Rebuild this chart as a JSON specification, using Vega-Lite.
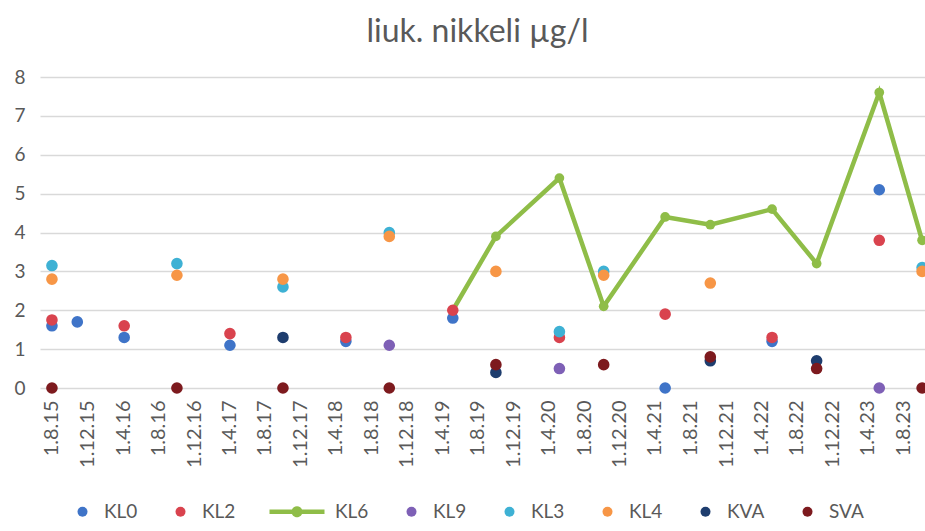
{
  "$schema": "https://vega.github.io/schema/vega-lite/v6.json",
  "width": 885,
  "height": 311,
  "autosize": {"type": "none"},
  "padding": {"left": 40, "top": 77, "right": 0, "bottom": 143},
  "background": "white",
  "title": {
    "text": "liuk. nikkeli µg/l",
    "font": "Lato",
    "fontSize": 32,
    "fontWeight": "normal",
    "color": "#595959",
    "anchor": "middle",
    "frame": "group",
    "baseline": "alphabetic",
    "offset": 35,
    "dy": 41,
    "dx": -5
  },
  "config": {
    "view": {"stroke": null},
    "font": "Lato",
    "axis": {"domain": false, "ticks": false, "title": null}
  },
  "data": {
    "values": [
      {"date": "2015-08-01T00:00:00", "series": "KL0", "value": 1.6},
      {"date": "2015-10-27T00:00:00", "series": "KL0", "value": 1.7},
      {"date": "2016-04-05T00:00:00", "series": "KL0", "value": 1.3},
      {"date": "2017-04-03T00:00:00", "series": "KL0", "value": 1.1},
      {"date": "2018-05-06T00:00:00", "series": "KL0", "value": 1.2},
      {"date": "2019-05-08T00:00:00", "series": "KL0", "value": 1.8},
      {"date": "2021-05-06T00:00:00", "series": "KL0", "value": 0.0},
      {"date": "2022-05-08T00:00:00", "series": "KL0", "value": 1.2},
      {"date": "2023-05-11T00:00:00", "series": "KL0", "value": 5.1},
      {"date": "2015-08-01T00:00:00", "series": "KL2", "value": 1.75},
      {"date": "2016-04-05T00:00:00", "series": "KL2", "value": 1.6},
      {"date": "2017-04-03T00:00:00", "series": "KL2", "value": 1.4},
      {"date": "2018-05-06T00:00:00", "series": "KL2", "value": 1.3},
      {"date": "2019-05-08T00:00:00", "series": "KL2", "value": 2.0},
      {"date": "2020-05-08T00:00:00", "series": "KL2", "value": 1.3},
      {"date": "2021-05-06T00:00:00", "series": "KL2", "value": 1.9},
      {"date": "2022-05-08T00:00:00", "series": "KL2", "value": 1.3},
      {"date": "2023-05-11T00:00:00", "series": "KL2", "value": 3.8},
      {"date": "2019-05-08T00:00:00", "series": "KL6", "value": 2.0},
      {"date": "2019-10-03T00:00:00", "series": "KL6", "value": 3.9},
      {"date": "2020-05-08T00:00:00", "series": "KL6", "value": 5.4},
      {"date": "2020-10-07T00:00:00", "series": "KL6", "value": 2.1},
      {"date": "2021-05-06T00:00:00", "series": "KL6", "value": 4.4},
      {"date": "2021-10-08T00:00:00", "series": "KL6", "value": 4.2},
      {"date": "2022-05-08T00:00:00", "series": "KL6", "value": 4.6},
      {"date": "2022-10-08T00:00:00", "series": "KL6", "value": 3.2},
      {"date": "2023-05-11T00:00:00", "series": "KL6", "value": 7.6},
      {"date": "2023-10-05T00:00:00", "series": "KL6", "value": 3.8},
      {"date": "2018-10-02T00:00:00", "series": "KL9", "value": 1.1},
      {"date": "2020-05-08T00:00:00", "series": "KL9", "value": 0.5},
      {"date": "2023-05-11T00:00:00", "series": "KL9", "value": 0.0},
      {"date": "2015-08-01T00:00:00", "series": "KL3", "value": 3.15},
      {"date": "2016-10-03T00:00:00", "series": "KL3", "value": 3.2},
      {"date": "2017-10-02T00:00:00", "series": "KL3", "value": 2.6},
      {"date": "2018-10-02T00:00:00", "series": "KL3", "value": 4.0},
      {"date": "2020-05-08T00:00:00", "series": "KL3", "value": 1.45},
      {"date": "2020-10-07T00:00:00", "series": "KL3", "value": 3.0},
      {"date": "2023-10-05T00:00:00", "series": "KL3", "value": 3.1},
      {"date": "2015-08-01T00:00:00", "series": "KL4", "value": 2.8},
      {"date": "2016-10-03T00:00:00", "series": "KL4", "value": 2.9},
      {"date": "2017-10-02T00:00:00", "series": "KL4", "value": 2.8},
      {"date": "2018-10-02T00:00:00", "series": "KL4", "value": 3.9},
      {"date": "2019-10-03T00:00:00", "series": "KL4", "value": 3.0},
      {"date": "2020-10-07T00:00:00", "series": "KL4", "value": 2.9},
      {"date": "2021-10-08T00:00:00", "series": "KL4", "value": 2.7},
      {"date": "2023-10-05T00:00:00", "series": "KL4", "value": 3.0},
      {"date": "2017-10-02T00:00:00", "series": "KVA", "value": 1.3},
      {"date": "2019-10-03T00:00:00", "series": "KVA", "value": 0.4},
      {"date": "2021-10-08T00:00:00", "series": "KVA", "value": 0.7},
      {"date": "2022-10-08T00:00:00", "series": "KVA", "value": 0.7},
      {"date": "2015-08-01T00:00:00", "series": "SVA", "value": 0.0},
      {"date": "2016-10-03T00:00:00", "series": "SVA", "value": 0.0},
      {"date": "2017-10-02T00:00:00", "series": "SVA", "value": 0.0},
      {"date": "2018-10-02T00:00:00", "series": "SVA", "value": 0.0},
      {"date": "2019-10-03T00:00:00", "series": "SVA", "value": 0.6},
      {"date": "2020-10-07T00:00:00", "series": "SVA", "value": 0.6},
      {"date": "2021-10-08T00:00:00", "series": "SVA", "value": 0.8},
      {"date": "2022-10-08T00:00:00", "series": "SVA", "value": 0.5},
      {"date": "2023-10-05T00:00:00", "series": "SVA", "value": 0.0}
    ]
  },
  "encoding": {
    "x": {
      "field": "date",
      "type": "temporal",
      "scale": {
        "domain": [
          {"year": 2015, "month": 6, "date": 21},
          {"year": 2023, "month": 10, "date": 15}
        ]
      },
      "axis": {
        "values": [
          {"year": 2015, "month": 8, "date": 1},
          {"year": 2015, "month": 12, "date": 1},
          {"year": 2016, "month": 4, "date": 1},
          {"year": 2016, "month": 8, "date": 1},
          {"year": 2016, "month": 12, "date": 1},
          {"year": 2017, "month": 4, "date": 1},
          {"year": 2017, "month": 8, "date": 1},
          {"year": 2017, "month": 12, "date": 1},
          {"year": 2018, "month": 4, "date": 1},
          {"year": 2018, "month": 8, "date": 1},
          {"year": 2018, "month": 12, "date": 1},
          {"year": 2019, "month": 4, "date": 1},
          {"year": 2019, "month": 8, "date": 1},
          {"year": 2019, "month": 12, "date": 1},
          {"year": 2020, "month": 4, "date": 1},
          {"year": 2020, "month": 8, "date": 1},
          {"year": 2020, "month": 12, "date": 1},
          {"year": 2021, "month": 4, "date": 1},
          {"year": 2021, "month": 8, "date": 1},
          {"year": 2021, "month": 12, "date": 1},
          {"year": 2022, "month": 4, "date": 1},
          {"year": 2022, "month": 8, "date": 1},
          {"year": 2022, "month": 12, "date": 1},
          {"year": 2023, "month": 4, "date": 1},
          {"year": 2023, "month": 8, "date": 1}
        ],
        "format": "%-d.%-m.%y",
        "labelAngle": -90,
        "grid": false,
        "labelFont": "Lato",
        "labelFontSize": 20,
        "labelColor": "#595959",
        "labelPadding": 12,
        "labelOverlap": false,
        "labelFlush": false,
        "labelBound": false
      }
    },
    "y": {
      "field": "value",
      "type": "quantitative",
      "scale": {"domain": [0, 8], "nice": false},
      "axis": {
        "values": [0, 1, 2, 3, 4, 5, 6, 7, 8],
        "grid": true,
        "gridColor": "#d9d9d9",
        "gridWidth": 1.3,
        "labelFont": "Lato",
        "labelFontSize": 19,
        "labelColor": "#595959",
        "labelPadding": 15
      }
    }
  },
  "layer": [
    {
      "transform": [{"filter": "datum.series === 'KL6'"}],
      "mark": {"type": "line", "strokeWidth": 4.5, "color": "#8fbd48", "point": {"filled": true, "size": 95, "color": "#8fbd48"}},
      "encoding": {}
    },
    {
      "transform": [{"filter": "datum.series !== 'KL6'"}],
      "mark": {"type": "point", "filled": true, "size": 135, "opacity": 1},
      "encoding": {
        "color": {
          "field": "series",
          "type": "nominal",
          "sort": null,
          "scale": {
            "domain": ["KL0", "KL2", "KL6", "KL9", "KL3", "KL4", "KVA", "SVA"],
            "range": ["#3f74c8", "#d9434e", "#8fbd48", "#7e60b6", "#3eb1d4", "#f79646", "#1e3d6e", "#7d1a1e"]
          },
          "legend": {
            "title": null,
            "orient": "none",
            "legendX": 33,
            "legendY": 425,
            "direction": "horizontal",
            "symbolSize": 100,
            "labelFont": "Lato",
            "labelFontSize": 19,
            "labelColor": "#595959",
            "labelOffset": 12,
            "columnPadding": 33
          }
        },
        "shape": {
          "field": "series",
          "type": "nominal",
          "sort": null,
          "scale": {
            "domain": ["KL0", "KL2", "KL6", "KL9", "KL3", "KL4", "KVA", "SVA"],
            "range": ["circle", "circle", "M-8.8,-0.45H2.2V0.45H-8.8Z M-2.2,0A1.1,1.1,0,1,1,-4.4,0A1.1,1.1,0,1,1,-2.2,0Z", "circle", "circle", "circle", "circle", "circle"]
          },
          "legend": {
            "title": null,
            "orient": "none",
            "legendX": 33,
            "legendY": 425,
            "direction": "horizontal",
            "symbolSize": 100,
            "labelFont": "Lato",
            "labelFontSize": 19,
            "labelColor": "#595959",
            "labelOffset": 12,
            "columnPadding": 33
          }
        }
      }
    }
  ]
}
